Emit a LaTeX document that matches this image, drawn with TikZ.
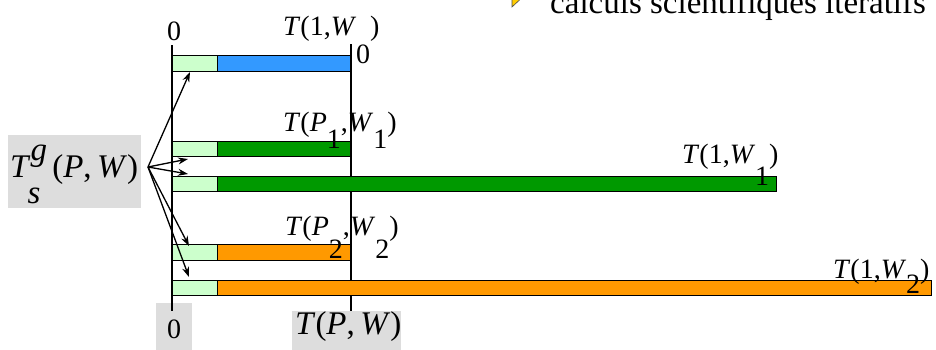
\documentclass[tikz,border=0pt]{standalone}
\usepackage{fontspec}
\setmainfont{Liberation Serif}
\usetikzlibrary{arrows.meta}
\definecolor{lgreen}{HTML}{CCFFCC}
\definecolor{bblue}{HTML}{3399FF}
\definecolor{dgreen}{HTML}{009900}
\definecolor{orng}{HTML}{FF9900}
\definecolor{gbox}{HTML}{DDDDDD}
\definecolor{bul}{HTML}{FFCC00}
\newcommand\lowsub[2]{\raisebox{-#1}{#2}}
\tikzset{
  bar/.style={draw=black,line width=0.8pt},
  axis/.style={line width=1.8pt},
  lbl/.style={inner sep=0pt,anchor=base west,font=\fontsize{28}{30}\selectfont},
  big/.style={inner sep=0pt,font=\fontsize{33}{36}\selectfont},
  gray/.style={fill=gbox,inner sep=0pt,anchor=north west},
  arr/.style={-{Stealth[length=10pt,width=7pt]},line width=1.3pt},
}
\begin{document}
\begin{tikzpicture}[x=1pt,y=-1pt]
\useasboundingbox (0,0) rectangle (936,349);
\clip (0,0) rectangle (936,349);
% title line (cut off at the top edge, as in the reference)
\draw[fill=bul,draw=black!70,line width=0.6pt] (512,-20) -- (526,-6) -- (512,7) -- cycle;
\node[inner sep=0pt,anchor=base west,font=\fontsize{33}{35}\selectfont] (title) at (550,13) {calculs scientifiques itératifs};
% gray boxes
\node[gray,minimum width=133pt,minimum height=73pt] (tsgbox) at (8,135) {};
\node[gray,minimum width=36pt,minimum height=50pt] (zbox) at (156,303) {};
\node[gray,minimum width=109pt,minimum height=45pt] (tpwbox) at (292,311) {};
% axes
\coordinate (lt) at (172,45); \coordinate (lb) at (172,311);
\coordinate (rt) at (351,44); \coordinate (rb) at (351,311);
\draw[axis] (lt) -- (lb);
\draw[axis] (rt) -- (rb);
% bars
\draw[bar,fill=lgreen] (172,55) rectangle (217,71);
\draw[bar,fill=bblue] (217,55) rectangle (350,71);
\draw[bar,fill=lgreen] (172,141) rectangle (217,156);
\draw[bar,fill=dgreen] (217,141) rectangle (350,156);
\draw[bar,fill=lgreen] (172,176) rectangle (217,191);
\draw[bar,fill=dgreen] (217,176) rectangle (776,191);
\draw[bar,fill=lgreen] (172,244) rectangle (217,260);
\draw[bar,fill=orng] (217,244) rectangle (350,260);
\draw[bar,fill=lgreen] (172,280) rectangle (217,295);
\draw[bar,fill=orng] (217,280) rectangle (931,295);
% labels
\node[lbl,anchor=base] (z0) at (174,40) {0};
\node[lbl,anchor=base] (z1) at (174,338) {0};
\node[lbl] (l0) at (283,35) {\textit{T}(1,\textit{W}\lowsub{28pt}{0})};
\node[lbl] (l1) at (283,131) {\textit{T}(\textit{P}\lowsub{17pt}{1},\textit{W}\lowsub{17pt}{1})};
\node[lbl] (l2) at (682,163) {\textit{T}(1,\textit{W}\lowsub{22pt}{1})};
\node[lbl] (l3) at (285,235) {\textit{T}(\textit{P}\lowsub{23pt}{2},\textit{W}\lowsub{23pt}{2})};
\node[lbl] (l4) at (833,278) {\textit{T}(1,\textit{W}\lowsub{15pt}{2})};
\node[big,anchor=base west] (tpw) at (295,334) {\textit{T}(\textit{P},\,\textit{W})};
\node[big,anchor=base west] (tsg) at (10,177) {\textit{T}\rlap{\raisebox{17pt}{\textit{g}}}\kern-3pt\raisebox{-26pt}{\textit{s}}\hspace{12pt}(\textit{P},\,\textit{W})};
% arrows
\coordinate (src) at (148,167);
\coordinate (t0) at (190,72);
\coordinate (t1) at (188,159);
\coordinate (t2) at (188,174);
\coordinate (t3) at (189,246);
\coordinate (t4) at (189,277);
\foreach \t in {t0,t1,t2,t3,t4} \draw[arr] (src) -- (\t);
\end{tikzpicture}
\end{document}
